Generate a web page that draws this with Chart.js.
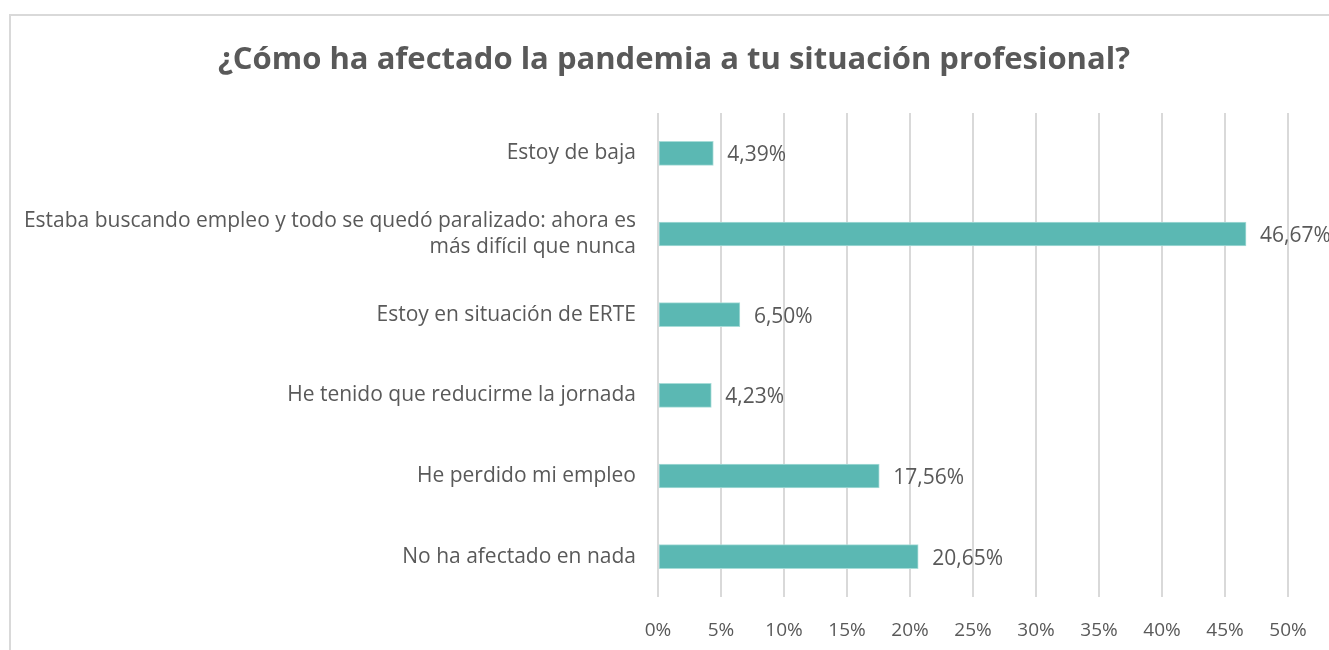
<!DOCTYPE html>
<html>
<head>
<meta charset="utf-8">
<script src="https://cdn.jsdelivr.net/npm/chart.js@4"></script>
<style>
    body { margin: 0; background: #fff; overflow: hidden; }
    .frame {
        position: absolute; left: 9px; top: 14px;
        width: 1400px; height: 700px;
        border: 2px solid #d9d9d9; box-sizing: border-box;
    }
    .wrap { position: absolute; left: 0; top: 0; width: 1329px; height: 650px; }
</style>
</head>
<body>
<div class="frame"></div>
<div class="wrap"><canvas id="chart"></canvas></div>
<script>
// Data
const chartTitle = '¿Cómo ha afectado la pandemia a tu situación profesional?';
const categories = [
    'Estoy de baja',
    ['Estaba buscando empleo y todo se quedó paralizado: ahora es', 'más difícil que nunca'],
    'Estoy en situación de ERTE',
    'He tenido que reducirme la jornada',
    'He perdido mi empleo',
    'No ha afectado en nada'
];
const values = [4.39, 46.67, 6.50, 4.23, 17.56, 20.65];
const xTicks = [0, 5, 10, 15, 20, 25, 30, 35, 40, 45, 50];

const FONT = '"Open Sans", sans-serif';
const TEXT = '#595959';

// Title is drawn by hand so it can sit centred on the outer frame, not the padded layout box
const titlePlugin = {
    id: 'frameTitle',
    afterDraw(chart) {
        const ctx = chart.ctx;
        ctx.save();
        ctx.font = 'bold 31px ' + FONT;
        ctx.fillStyle = TEXT;
        ctx.textAlign = 'center';
        ctx.textBaseline = 'middle';
        ctx.fillText(chartTitle, (chart.width + 19) / 2, 60);
        ctx.restore();
    }
};

// Draw the value labels next to each bar
const valueLabels = {
    id: 'valueLabels',
    afterDatasetsDraw(chart) {
        const ctx = chart.ctx;
        const meta = chart.getDatasetMeta(0);
        ctx.save();
        ctx.font = '21px ' + FONT;
        ctx.fillStyle = TEXT;
        ctx.textAlign = 'left';
        ctx.textBaseline = 'middle';
        meta.data.forEach((bar, i) => {
            const txt = values[i].toFixed(2).replace('.', ',') + '%';
            ctx.fillText(txt, bar.x + 14, bar.y + 2);
        });
        ctx.restore();
    }
};

const ctx = document.getElementById('chart').getContext('2d');
new Chart(ctx, {
    type: 'bar',
    data: {
        labels: categories,
        datasets: [{
            data: values,
            backgroundColor: '#5bb8b3',
            borderColor: '#a8dcd8',
            borderWidth: 1,
            borderSkipped: false,
            barThickness: 24
        }]
    },
    options: {
        indexAxis: 'y',
        responsive: true,
        maintainAspectRatio: false,
        animation: false,
        layout: { padding: { left: 9, right: 41, top: 113, bottom: 0 } },
        plugins: {
            legend: { display: false },
            tooltip: { enabled: false },
            title: { display: false }
        },
        scales: {
            x: {
                min: 0,
                max: 50,
                afterBuildTicks(scale) {
                    scale.ticks = xTicks.map(v => ({ value: v }));
                },
                afterFit(scale) { scale.height = 53; },
                grid: { color: '#d9d9d9', lineWidth: 2, drawTicks: false },
                border: { display: false },
                ticks: {
                    color: TEXT,
                    font: { family: FONT, size: 19 },
                    padding: 22,
                    callback: v => v + '%'
                }
            },
            y: {
                afterFit(scale) { scale.width = 649; },
                grid: { display: false },
                border: { display: false },
                ticks: {
                    color: TEXT,
                    font: { family: FONT, size: 21 },
                    padding: 14
                }
            }
        }
    },
    plugins: [valueLabels, titlePlugin]
});
</script>
</body>
</html>
